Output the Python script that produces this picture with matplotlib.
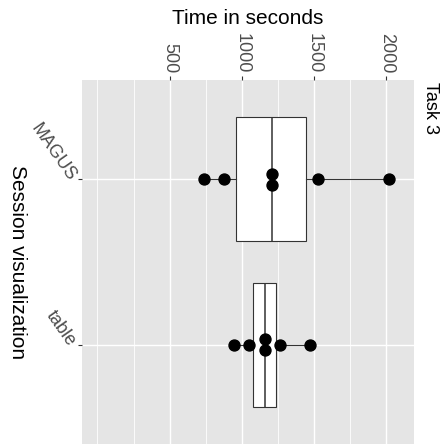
import numpy as np
import matplotlib.pyplot as plt

# session visualization groups and their times (seconds)
groups = ['MAGUS', 'table']
magus_times = [740, 875, 1210, 1210, 1525, 2020]
table_times = [945, 1050, 1160, 1160, 1265, 1470]
time_ticks = [500, 1000, 1500, 2000]
minor_ticks = [0, 250, 750, 1250, 1750]

plt.rcParams['font.family'] = ['Liberation Sans', 'DejaVu Sans']

W, H = 443, 444
fig = plt.figure(figsize=(W / 100, H / 100), dpi=100)
# panel: x 82..414 px, y 80..444 px
ax = fig.add_axes([82 / W, 0, (414 - 82) / W, (H - 80) / H])
ax.set_facecolor('#E5E5E5')
for s in ax.spines.values():
    s.set_visible(False)

data = [magus_times, table_times]
pos = np.arange(1, len(groups) + 1)

# grid
for t in minor_ticks:
    ax.axvline(t, color='white', lw=0.6, zorder=0)
for t in time_ticks:
    ax.axvline(t, color='white', lw=1.0, zorder=0)
for p in pos:
    ax.axhline(p, color='white', lw=1.0, zorder=0)

ax.boxplot(data, positions=pos, widths=0.75, vert=False, patch_artist=True,
           showcaps=False, showfliers=False, whis=1.5,
           boxprops=dict(facecolor='white', edgecolor='#333333', lw=0.8),
           medianprops=dict(color='#333333', lw=1.1),
           whiskerprops=dict(color='#333333', lw=0.8), zorder=2)

# centred dot stacks, like geom_dotplot
step = 0.0665
for p, vals in zip(pos, data):
    uniq, counts = np.unique(vals, return_counts=True)
    for v, c in zip(uniq, counts):
        offs = (np.arange(c) - (c - 1) / 2) * step
        ax.plot([v] * c, p + offs, 'o', color='black', ms=7.9,
                mec='black', zorder=3)

ax.set_xlim(-107, 2193)
ax.set_ylim(2.6, 0.4)

ax.xaxis.tick_top()
ax.set_xticks(time_ticks)
ax.set_xticks(minor_ticks, minor=True)
ax.tick_params(axis='x', which='minor', length=0)
ax.tick_params(axis='x', which='major', length=3, width=0.8, color='#333333',
               labelsize=13, labelcolor='#4D4D4D', labelrotation=-90, pad=2)
ax.set_yticks(pos)
ax.set_yticklabels(groups, rotation=-55, ha='right', va='center',
                   rotation_mode='anchor')
ax.tick_params(axis='y', length=3, width=0.8, color='#333333',
               labelsize=13, labelcolor='#4D4D4D', pad=4)

fig.text(248 / W, 1 - 18 / H, 'Time in seconds', fontsize=15,
         ha='center', va='center')
fig.text(17 / W, 1 - 262 / H, 'Session visualization', fontsize=15,
         rotation=-90, ha='center', va='center')
fig.text(430 / W, 1 - 82 / H, 'Task 3', fontsize=13,
         rotation=-90, ha='center', va='top')

fig.savefig('out.png', dpi=100)
